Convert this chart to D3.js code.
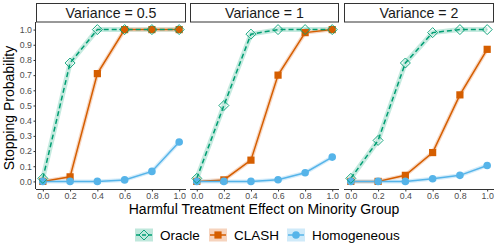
<!DOCTYPE html>
<html><head><meta charset="utf-8">
<script src="https://cdn.jsdelivr.net/npm/d3@7"></script>
<style>body{margin:0;background:#fff}svg{display:block;font-family:"Liberation Sans",Arial,sans-serif}</style>
</head><body><svg id="c" width="498" height="249"></svg>
<script>
const effects = [0.0, 0.2, 0.4, 0.6, 0.8, 1.0];
const panels = ["Variance = 0.5", "Variance = 1", "Variance = 2"];
const seriesNames = ["Oracle", "CLASH", "Homogeneous"];
const oracle = [[0.02,0.78,1.0,1.0,1.0,1.0],[0.02,0.50,0.97,1.0,1.0,1.0],[0.02,0.27,0.78,0.98,1.0,1.0]];
const clash = [[0.0,0.03,0.71,1.0,1.0,1.0],[0.0,0.01,0.14,0.70,0.98,1.0],[0.0,0.0,0.04,0.19,0.57,0.87]];
const homog = [[0.0,0.0,0.0,0.01,0.066,0.26],[0.0,0.0,0.0,0.011,0.057,0.16],[0.0,0.0,0.0,0.018,0.04,0.105]];
const yTicks = [0.0,0.1,0.2,0.3,0.4,0.5,0.6,0.7,0.8,0.9,1.0];
const xTicks = [0.0,0.2,0.4,0.6,0.8,1.0];

const svg = d3.select("#c");
const colors = {Oracle:"#009E73", CLASH:"#D55E00", Homogeneous:"#56B4E9"};
const bands = {Oracle:"#bfe8dc", CLASH:"#f6d3bd", Homogeneous:"#cfeaf9"};
const data = {Oracle:oracle, CLASH:clash, Homogeneous:homog};
const panelX = [[36,186],[190,339],[344,494]];
const pTop = 22, pBottom = 189;
const y = d3.scaleLinear().domain([-0.05,1.05]).range([pBottom, pTop]);

function marker(g, name, cx, cy){
  if(name==="Oracle"){
    g.append("path").attr("d",`M${cx},${cy-5}L${cx+5},${cy}L${cx},${cy+5}L${cx-5},${cy}Z`)
      .attr("fill","none").attr("stroke",colors.Oracle).attr("stroke-width",0.9);
  } else if(name==="CLASH"){
    g.append("rect").attr("x",cx-3.6).attr("y",cy-3.6).attr("width",7.2).attr("height",7.2).attr("fill",colors.CLASH);
  } else {
    g.append("circle").attr("cx",cx).attr("cy",cy).attr("r",3.8).attr("fill",colors.Homogeneous);
  }
}

panels.forEach((label,pi)=>{
  const [x0,x1] = panelX[pi];
  const x = d3.scaleLinear().domain([-0.05,1.05]).range([x0,x1]);
  const g = svg.append("g");
  g.append("rect").attr("x",x0+0.5).attr("y",3.5).attr("width",x1-x0-1).attr("height",18.5)
    .attr("fill","#fff").attr("stroke","#333").attr("stroke-width",1);
  g.append("text").attr("x",(x0+x1)/2).attr("y",18).attr("text-anchor","middle")
    .attr("font-size",14.2).attr("fill","#1a1a1a").text(label);
  const xa = g.append("g").attr("transform",`translate(0,${pBottom})`)
    .call(d3.axisBottom(x).tickValues(xTicks).tickFormat(d3.format(".1f")).tickSize(2.5).tickPadding(1.5));
  xa.select(".domain").attr("stroke","#333").attr("d",`M${x0},0.5H${x1}`);
  xa.selectAll(".tick line").attr("stroke","#333");
  xa.selectAll("text").attr("fill","#4d4d4d").attr("font-size",8.8).attr("font-family","Liberation Sans, Arial, sans-serif");
  if(pi===0){
    const ya = g.append("g").attr("transform",`translate(${x0},0)`)
      .call(d3.axisLeft(y).tickValues(yTicks).tickFormat(d3.format(".1f")).tickSize(2.5).tickPadding(1.5));
    ya.select(".domain").attr("stroke","#333").attr("d",`M-0.5,${pTop}V${pBottom}`);
    ya.selectAll(".tick line").attr("stroke","#333");
    ya.selectAll("text").attr("fill","#4d4d4d").attr("font-size",8.8).attr("font-family","Liberation Sans, Arial, sans-serif");
  }
  const line = d3.line().x((d,i)=>x(effects[i])).y(d=>y(d));
  seriesNames.forEach(n=>{
    g.append("path").datum(data[n][pi]).attr("d",line).attr("fill","none")
      .attr("stroke",bands[n]).attr("stroke-width",n==="Oracle"?5:4).attr("stroke-linejoin","round").attr("opacity",0.9);
  });
  ["CLASH","Homogeneous","Oracle"].forEach(n=>{
    g.append("path").datum(data[n][pi]).attr("d",line).attr("fill","none")
      .attr("stroke",colors[n]).attr("stroke-width",1.5)
      .attr("stroke-dasharray",n==="Oracle"?"5,3":null);
  });
  ["CLASH","Homogeneous","Oracle"].forEach(n=>{
    data[n][pi].forEach((v,i)=>marker(g,n,x(effects[i]),y(v)));
  });
});

svg.append("text").attr("transform","translate(14,108) rotate(-90)").attr("text-anchor","middle")
  .attr("font-size",14).attr("fill","#000").text("Stopping Probability");
svg.append("text").attr("x",264).attr("y",214).attr("text-anchor","middle")
  .attr("font-size",14).attr("fill","#000").text("Harmful Treatment Effect on Minority Group");

const legend = [{n:"Oracle",x:135},{n:"CLASH",x:209},{n:"Homogeneous",x:287}];
legend.forEach(l=>{
  const g = svg.append("g");
  const cy = 235;
  g.append("rect").attr("x",l.x).attr("y",cy-6.5).attr("width",18).attr("height",13).attr("fill",bands[l.n]);
  g.append("line").attr("x1",l.x+1).attr("x2",l.x+17).attr("y1",cy).attr("y2",cy)
    .attr("stroke",colors[l.n]).attr("stroke-width",1.5).attr("stroke-dasharray",l.n==="Oracle"?"4,2":null);
  marker(g,l.n,l.x+9,cy);
  g.append("text").attr("x",l.x+25).attr("y",cy+5).attr("font-size",13.5).attr("fill","#000").text(l.n);
});
</script></body></html>
